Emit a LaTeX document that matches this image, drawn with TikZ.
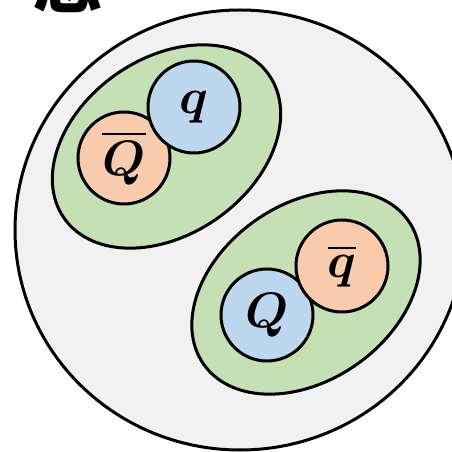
\documentclass[tikz,border=0pt]{standalone}
\usepackage{graphicx}
\usepackage{amsmath}
\usepackage{fontspec}
\newfontfamily\cjkfont{Noto Sans CJK SC}
\usetikzlibrary{shapes.geometric}
\definecolor{bggray}{HTML}{F1F1F1}
\definecolor{pairgreen}{HTML}{C5E0B4}
\definecolor{qblue}{HTML}{BDD7EE}
\definecolor{qorange}{HTML}{F8CBAD}
\newcommand{\qlabel}[1]{\scalebox{2.0}{\Huge$#1$}}
\tikzset{
  outline/.style={draw=black, line width=3pt},
  pairbox/.style={outline, ellipse, fill=pairgreen, minimum width=250pt, minimum height=176pt, rotate=35, inner sep=0pt},
  quark/.style={outline, circle, minimum size=92pt, inner sep=0pt},
}
\begin{document}
\begin{tikzpicture}[x=1pt,y=1pt]
\useasboundingbox (0,0) rectangle (451,452);
\node[anchor=base west, inner sep=0pt, font=\cjkfont\bfseries\fontsize{70}{70}\selectfont] (title) at (32,444) {态};
\node[outline, ellipse, fill=bggray, minimum width=450pt, minimum height=440pt, inner sep=0pt] (hadron) at (240,222) {};
\node[pairbox] (pairA) at (166.5,305.5) {};
\node[pairbox] (pairB) at (306,159.5) {};
\node[quark, fill=qorange] (Qbar) at (124,294) {\qlabel{\overline{\boldsymbol{Q}}}};
\node[quark, fill=qblue] (q) at (194,345) {\qlabel{\boldsymbol{q}}};
\node[quark, fill=qblue] (Q) at (267,137) {\qlabel{\boldsymbol{Q}}};
\node[quark, fill=qorange] (qbar) at (342,186) {\qlabel{\overline{\boldsymbol{q}}}};
\end{tikzpicture}
\end{document}
